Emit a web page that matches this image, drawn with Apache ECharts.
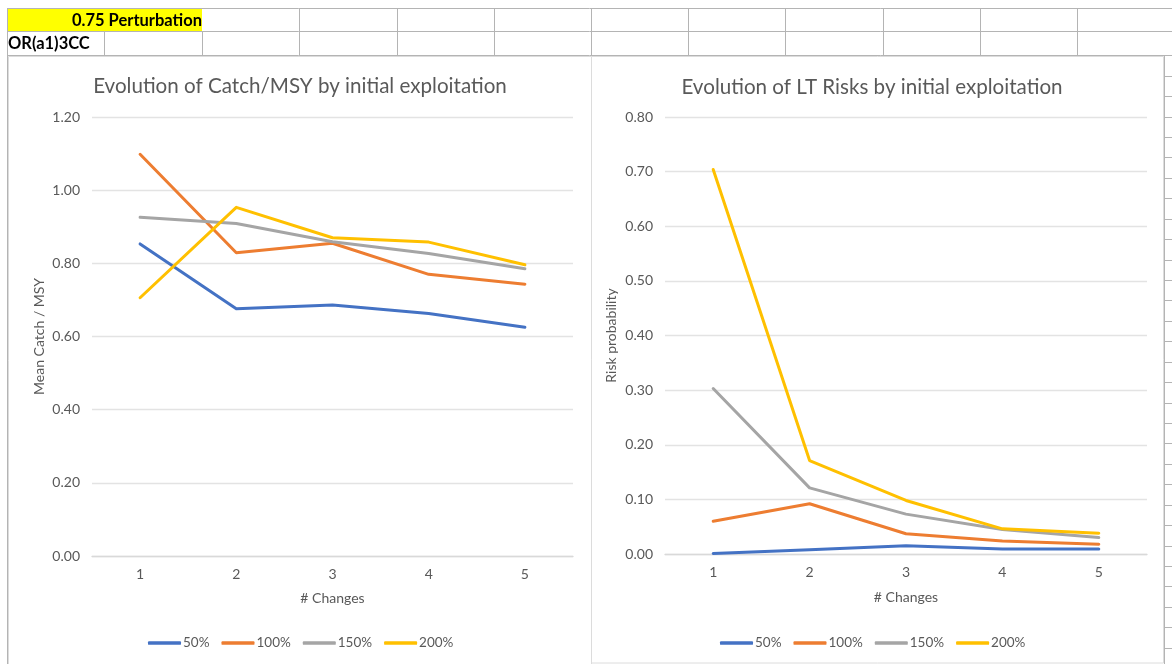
<!DOCTYPE html>
<html>
<head>
<meta charset="utf-8">
<script src="https://cdn.jsdelivr.net/npm/echarts@6/dist/echarts.min.js"></script>
<style>
html,body{margin:0;padding:0;background:#fff;}
#chart{width:1172px;height:664px;}
</style>
</head>
<body>
<div id="chart"></div>
<script>
// ---- data ----
const categories = ['1', '2', '3', '4', '5'];
const seriesNames = ['50%', '100%', '150%', '200%'];
const catch50  = [0.853, 0.676, 0.686, 0.663, 0.625];
const catch100 = [1.098, 0.829, 0.855, 0.770, 0.743];
const catch150 = [0.926, 0.909, 0.859, 0.827, 0.785];
const catch200 = [0.706, 0.953, 0.870, 0.858, 0.796];
const risk50  = [0.001, 0.008, 0.015, 0.009, 0.009];
const risk100 = [0.060, 0.092, 0.037, 0.024, 0.018];
const risk150 = [0.303, 0.121, 0.073, 0.045, 0.030];
const risk200 = [0.704, 0.171, 0.098, 0.046, 0.038];
const catchAxis = {min: 0, max: 1.2, interval: 0.2};
const riskAxis = {min: 0, max: 0.8, interval: 0.1};
const titles = ['Evolution of Catch/MSY by initial exploitation', 'Evolution of LT Risks by initial exploitation'];
const yNames = ['Mean Catch / MSY', 'Risk probability'];
const xName = '# Changes';
const cellTexts = ['0.75 Perturbation', 'OR(a1)3CC'];

// ---- styles ----
const colors = ['#4472C4', '#ED7D31', '#A5A5A5', '#FFC000'];
const FONT = 'Lato, "Open Sans", sans-serif';
const TXT = '#595959';
const GRID = '#E3E3E3';
const SHEET = '#B4B4B4';

const chart = echarts.init(document.getElementById('chart'), null, {renderer: 'canvas'});

// spreadsheet decoration
const g = [];
function hline(x1, x2, y, c, w) { g.push({type: 'line', silent: true, shape: {x1: x1, y1: y, x2: x2, y2: y}, style: {stroke: c, lineWidth: w || 1}}); }
function vline(x, y1, y2, c, w) { g.push({type: 'line', silent: true, shape: {x1: x, y1: y1, x2: x, y2: y2}, style: {stroke: c, lineWidth: w || 1}}); }
g.push({type: 'rect', silent: true, shape: {x: 7, y: 8.5, width: 195, height: 23}, style: {fill: '#FFFF00'}});
hline(7, 1172, 8.5, SHEET);
hline(7, 1172, 31.5, SHEET);
hline(7, 1172, 55.5, SHEET);
vline(7.5, 8, 664, SHEET);
[104.5, 202.5].forEach(x => vline(x, 31.5, 55.5, SHEET));
[299.5, 397.5, 494.5, 591.5, 688.5, 785.5, 883.5, 980.5, 1077.5].forEach(x => vline(x, 8.5, 55.5, SHEET));
// chart areas
g.push({type: 'rect', silent: true, shape: {x: 8.5, y: 56.5, width: 583, height: 620}, style: {fill: '#fff', stroke: '#DCDCDC', lineWidth: 1}});
g.push({type: 'rect', silent: true, shape: {x: 591.5, y: 56.5, width: 572, height: 606.5}, style: {fill: '#fff', stroke: '#DCDCDC', lineWidth: 1}});
vline(1164.5, 56, 664, SHEET);
for (let y = 75.7; y < 664; y += 20.43) hline(1165, 1172, Math.round(y) + 0.5, SHEET);
g.push({type: 'text', silent: true, x: 202, y: 21, style: {text: cellTexts[0], font: 'bold 16.5px ' + FONT, fill: '#000', align: 'right', verticalAlign: 'middle'}});
g.push({type: 'text', silent: true, x: 8, y: 44, style: {text: cellTexts[1], font: 'bold 16.5px ' + FONT, fill: '#000', align: 'left', verticalAlign: 'middle'}});

function yAxisCfg(ax, name, gap) {
  return {
    type: 'value', gridIndex: 0, min: ax.min, max: ax.max, interval: ax.interval,
    name: name, nameLocation: 'middle', nameGap: gap,
    nameTextStyle: {color: TXT, fontFamily: FONT, fontSize: 14},
    axisLine: {show: false}, axisTick: {show: false},
    axisLabel: {color: TXT, fontFamily: FONT, fontSize: 14, margin: 12, formatter: v => v.toFixed(2)},
    splitLine: {lineStyle: {color: GRID, width: 1.3}}
  };
}
function xAxisCfg(idx, gap) {
  return {
    type: 'category', gridIndex: idx, data: categories, boundaryGap: true,
    name: xName, nameLocation: 'middle', nameGap: gap,
    nameTextStyle: {color: TXT, fontFamily: FONT, fontSize: 14},
    axisLine: {lineStyle: {color: '#D9D9D9', width: 1.3}}, axisTick: {show: false},
    axisLabel: {color: TXT, fontFamily: FONT, fontSize: 14, margin: 11}
  };
}
const ya = yAxisCfg(catchAxis, yNames[0], 46);
const yb = yAxisCfg(riskAxis, yNames[1], 47); yb.gridIndex = 1;
const catchData = [catch50, catch100, catch150, catch200];
const riskData = [risk50, risk100, risk150, risk200];
const series = [];
seriesNames.forEach((n, i) => {
  series.push({name: n, type: 'line', xAxisIndex: 0, yAxisIndex: 0, data: catchData[i], symbol: 'none', color: colors[i], lineStyle: {width: 3, cap: 'round', join: 'round'}, z: 2 + i});
});
seriesNames.forEach((n, i) => {
  series.push({name: n, type: 'line', xAxisIndex: 1, yAxisIndex: 1, data: riskData[i], symbol: 'none', color: colors[i], lineStyle: {width: 3, cap: 'round', join: 'round'}, z: 2 + i});
});
function legendCfg(left) {
  return {
    data: seriesNames, left: left, top: 631, icon: 'roundRect', itemWidth: 33, itemHeight: 3.5, itemGap: 12,
    selectedMode: false,
    textStyle: {color: TXT, fontFamily: FONT, fontSize: 13.5, padding: [0, 0, 0, -3]}
  };
}

chart.setOption({
  animation: false,
  backgroundColor: '#fff',
  graphic: g,
  title: [
    {text: titles[0], left: 300, top: 76, textAlign: 'center', padding: 0, textStyle: {color: TXT, fontFamily: FONT, fontSize: 20.6, fontWeight: 'normal'}},
    {text: titles[1], left: 872, top: 77, textAlign: 'center', padding: 0, textStyle: {color: TXT, fontFamily: FONT, fontSize: 20.6, fontWeight: 'normal'}}
  ],
  legend: [legendCfg(143), legendCfg(715)],
  grid: [
    {left: 92, right: 599, top: 117, bottom: 108},
    {left: 665, right: 25, top: 117, bottom: 110}
  ],
  xAxis: [xAxisCfg(0, 35), xAxisCfg(1, 36)],
  yAxis: [ya, yb],
  series: series
});
</script>
</body>
</html>
